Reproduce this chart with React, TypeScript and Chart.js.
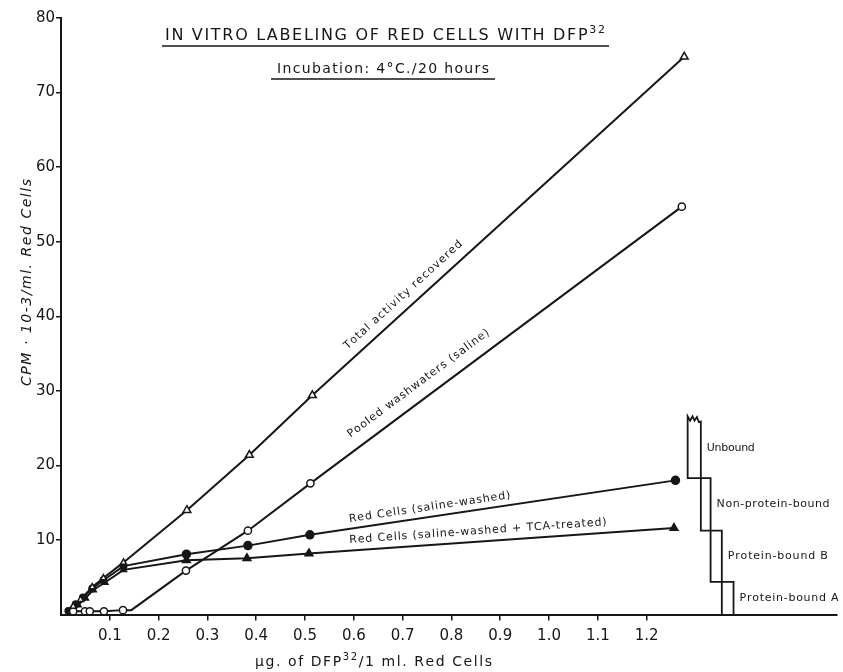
import React, { useEffect, useRef } from "react";
import { Chart, registerables } from "chart.js";
Chart.register(...registerables);

// ---------- data ----------
const xTickValues = [0.1, 0.2, 0.3, 0.4, 0.5, 0.6, 0.7, 0.8, 0.9, 1.0, 1.1, 1.2];
const xTickLabels = ["0.1", "0.2", "0.3", "0.4", "0.5", "0.6", "0.7", "0.8", "0.9", "1.0", "1.1", "1.2"];
const yTickValues = [10, 20, 30, 40, 50, 60, 70, 80];
const yTickLabels = ["10", "20", "30", "40", "50", "60", "70", "80"];

// Total activity recovered (open triangles)
const totalX = [0.025, 0.04, 0.064, 0.087, 0.128, 0.258, 0.386, 0.515, 1.277];
const totalY = [1.1, 2.0, 3.7, 4.9, 7.0, 14.0, 21.4, 29.4, 74.8];

// Pooled washwaters (saline) (open circles); 0 = knee of the line without a marker
const pooledX = [0.025, 0.049, 0.059, 0.088, 0.127, 0.144, 0.256, 0.383, 0.511, 1.272];
const pooledY = [0.45, 0.45, 0.45, 0.45, 0.6, 0.6, 5.9, 11.25, 17.6, 54.7];
const pooledMarked = [1, 1, 1, 1, 1, 0, 1, 1, 1, 1];

// Red Cells (saline-washed) (filled circles)
const redX = [0.015, 0.03, 0.045, 0.064, 0.087, 0.128, 0.257, 0.383, 0.51, 1.259];
const redY = [0.5, 1.4, 2.3, 3.5, 4.6, 6.5, 8.1, 9.25, 10.7, 18.0];

// Red Cells (saline-washed + TCA-treated) (filled triangles)
const tcaX = [0.02, 0.035, 0.05, 0.066, 0.09, 0.128, 0.257, 0.381, 0.508, 1.256];
const tcaY = [0.6, 1.3, 2.2, 3.3, 4.3, 6.0, 7.3, 7.55, 8.2, 11.6];

// Fraction staircase at the right
const stepX = [1.284, 1.311, 1.331, 1.354, 1.378];
const stepLevels = [26.4, 18.3, 11.25, 4.4, 0];
const stepNames = ["Unbound", "Non-protein-bound", "Protein-bound B", "Protein-bound A"];
const zigX = [1.311, 1.307, 1.303, 1.298, 1.294, 1.289, 1.284];
const zigY = [25.9, 25.8, 26.5, 26.0, 26.6, 26.0, 26.6];

const seriesLabels = [
  "Total activity recovered",
  "Pooled washwaters (saline)",
  "Red Cells (saline-washed)",
  "Red Cells (saline-washed + TCA-treated)",
];
const titleText = "IN VITRO LABELING OF RED CELLS WITH DFP";
const titleSup = "32";
const subtitleText = "Incubation: 4°C./20 hours";
const yAxisTitle = "CPM · 10-3/ml. Red Cells";
const xAxisTitleA = "µg. of DFP";
const xAxisTitleSup = "32";
const xAxisTitleB = "/1 ml. Red Cells";

// ---------- styling ----------
const W = 843;
const H = 672;
const INK = "#161616";
const FONT = '"DejaVu Sans", sans-serif';

const pts = (xs: number[], ys: number[]) => xs.map((x, i) => ({ x, y: ys[i] }));

function drawSpaced(
  ctx: CanvasRenderingContext2D,
  runs: { text: string; font: string; dy?: number }[],
  x: number,
  y: number,
  target?: number
) {
  let natural = 0;
  let n = 0;
  for (const r of runs) {
    ctx.font = r.font;
    for (const ch of Array.from(r.text)) {
      natural += ctx.measureText(ch).width;
      n++;
    }
  }
  const sp = target != null && n > 1 ? (target - natural) / (n - 1) : 0;
  let cx = x;
  for (const r of runs) {
    ctx.font = r.font;
    for (const ch of Array.from(r.text)) {
      ctx.fillText(ch, cx, y + (r.dy || 0));
      cx += ctx.measureText(ch).width + sp;
    }
  }
  return cx - sp;
}

const textPlugin = {
  id: "texts",
  afterDraw(chart: any) {
    const ctx: CanvasRenderingContext2D = chart.ctx;
    const xs = chart.scales.x;
    const ys = chart.scales.y;
    const px = (v: number) => xs.getPixelForValue(v);
    const py = (v: number) => ys.getPixelForValue(v);
    ctx.save();
    ctx.fillStyle = INK;
    ctx.strokeStyle = INK;
    ctx.textAlign = "left";
    ctx.textBaseline = "alphabetic";

    // title
    const tEnd = drawSpaced(
      ctx,
      [
        { text: titleText, font: `16px ${FONT}` },
        { text: titleSup, font: `11px ${FONT}`, dy: -7 },
      ],
      165,
      40,
      440
    );
    ctx.lineWidth = 1.6;
    ctx.beginPath();
    ctx.moveTo(162, 46);
    ctx.lineTo(tEnd + 4, 46);
    ctx.stroke();

    // subtitle
    const sEnd = drawSpaced(ctx, [{ text: subtitleText, font: `14px ${FONT}` }], 277, 73, 212);
    ctx.beginPath();
    ctx.moveTo(271, 79);
    ctx.lineTo(sEnd + 6, 79);
    ctx.stroke();

    // labels along the lines
    const lab = [
      { t: seriesLabels[0], at: [0.587, 35.5], a: [totalX[7], totalY[7], totalX[8], totalY[8]], w: 156 },
      { t: seriesLabels[1], at: [0.593, 23.7], a: [pooledX[8], pooledY[8], pooledX[9], pooledY[9]], w: 174 },
      { t: seriesLabels[2], at: [0.591, 12.4], a: [redX[8], redY[8], redX[9], redY[9]], w: 163 },
      { t: seriesLabels[3], at: [0.591, 9.6], a: [tcaX[8], tcaY[8], tcaX[9], tcaY[9]], w: 258 },
    ];
    for (const l of lab) {
      const ang = Math.atan2(py(l.a[3]) - py(l.a[1]), px(l.a[2]) - px(l.a[0]));
      ctx.save();
      ctx.translate(px(l.at[0]), py(l.at[1]));
      ctx.rotate(ang);
      drawSpaced(ctx, [{ text: l.t, font: `11px ${FONT}` }], 0, 0, l.w);
      ctx.restore();
    }

    // fraction names
    const nameW = [48, 113, 100, 99];
    ctx.textBaseline = "middle";
    stepNames.forEach((name, i) => {
      const x = px(stepX[i + 1]) + 6;
      const y = (py(stepLevels[i]) + py(stepLevels[i + 1])) / 2;
      drawSpaced(ctx, [{ text: name, font: `11px ${FONT}` }], x, y, nameW[i]);
    });

    // y axis title
    ctx.textBaseline = "middle";
    ctx.save();
    ctx.translate(27, 283);
    ctx.rotate(-Math.PI / 2);
    drawSpaced(ctx, [{ text: yAxisTitle, font: `italic 14px ${FONT}` }], -103, 0, 207);
    ctx.restore();

    // x axis title
    ctx.textBaseline = "alphabetic";
    drawSpaced(
      ctx,
      [
        { text: xAxisTitleA, font: `14px ${FONT}` },
        { text: xAxisTitleSup, font: `10px ${FONT}`, dy: -6 },
        { text: xAxisTitleB, font: `14px ${FONT}` },
      ],
      255,
      666,
      237
    );
    ctx.restore();
  },
};

export default function App() {
  const ref = useRef<HTMLCanvasElement | null>(null);

  useEffect(() => {
    if (!ref.current) return;
    const base = {
      showLine: true,
      borderColor: INK,
      borderWidth: 2,
      tension: 0,
      pointBorderColor: INK,
      pointBorderWidth: 1.5,
      clip: false as any,
    };
    const stepPath = [
      { x: stepX[3], y: stepLevels[4] },
      { x: stepX[3], y: stepLevels[2] },
      { x: stepX[1], y: stepLevels[2] },
      ...pts(zigX, zigY),
      { x: stepX[0], y: stepLevels[1] },
      { x: stepX[2], y: stepLevels[1] },
      { x: stepX[2], y: stepLevels[3] },
      { x: stepX[4], y: stepLevels[3] },
      { x: stepX[4], y: stepLevels[4] },
    ];
    const chart = new Chart(ref.current, {
      type: "scatter",
      data: {
        datasets: [
          {
            ...base,
            label: seriesLabels[0],
            data: pts(totalX, totalY),
            pointStyle: "triangle",
            pointRadius: totalX.map((x) => (x < 0.2 ? 3.5 : 4.5)),
            pointBackgroundColor: "#ffffff",
          },
          {
            ...base,
            label: seriesLabels[1],
            data: pts(pooledX, pooledY),
            pointStyle: "circle",
            pointRadius: pooledMarked.map((m) => (m ? 3.6 : 0)),
            pointBackgroundColor: "#ffffff",
          },
          {
            ...base,
            label: seriesLabels[2],
            data: pts(redX, redY),
            pointStyle: "circle",
            pointRadius: redX.map((x) => (x < 0.2 ? 3.2 : 4)),
            pointBackgroundColor: INK,
          },
          {
            ...base,
            label: seriesLabels[3],
            data: pts(tcaX, tcaY),
            pointStyle: "triangle",
            pointRadius: tcaX.map((x) => (x < 0.2 ? 3.5 : 4.5)),
            pointBackgroundColor: INK,
          },
          {
            ...base,
            label: "fractions",
            data: stepPath,
            pointRadius: 0,
            borderWidth: 1.8,
          },
        ],
      },
      options: {
        responsive: false,
        animation: false,
        events: [],
        layout: { padding: { top: 18, right: 0, left: 0, bottom: 0 } },
        plugins: { legend: { display: false }, tooltip: { enabled: false }, title: { display: false } },
        scales: {
          x: {
            type: "linear",
            min: 0,
            max: 1.59,
            afterBuildTicks: (s: any) => {
              s.ticks = xTickValues.map((v) => ({ value: v }));
            },
            afterFit: (s: any) => {
              s.height = H - 614.6;
            },
            ticks: {
              autoSkip: false,
              maxRotation: 0,
              padding: 7,
              color: INK,
              font: { family: "DejaVu Sans", size: 15 },
              callback: (_v: any, i: number) => xTickLabels[i],
            },
            grid: { drawOnChartArea: false, drawTicks: true, tickLength: 6, color: INK, lineWidth: 1.5 },
            border: { display: true, color: INK, width: 2 },
          },
          y: {
            type: "linear",
            min: 0,
            max: 80,
            afterBuildTicks: (s: any) => {
              s.ticks = yTickValues.map((v) => ({ value: v }));
            },
            afterFit: (s: any) => {
              s.width = 61;
            },
            ticks: {
              autoSkip: false,
              padding: 1,
              color: INK,
              font: { family: "DejaVu Sans", size: 15 },
              callback: (_v: any, i: number) => yTickLabels[i],
            },
            grid: { drawOnChartArea: false, drawTicks: true, tickLength: 5, color: INK, lineWidth: 1.5 },
            border: { display: true, color: INK, width: 2 },
          },
        },
      },
      plugins: [textPlugin],
    } as any);
    return () => chart.destroy();
  }, []);

  return (
    <div style={{ position: "absolute", left: 0, top: 0, width: W, height: H, background: "#ffffff" }}>
      <canvas ref={ref} width={W} height={H} style={{ display: "block", width: W, height: H }} />
    </div>
  );
}
